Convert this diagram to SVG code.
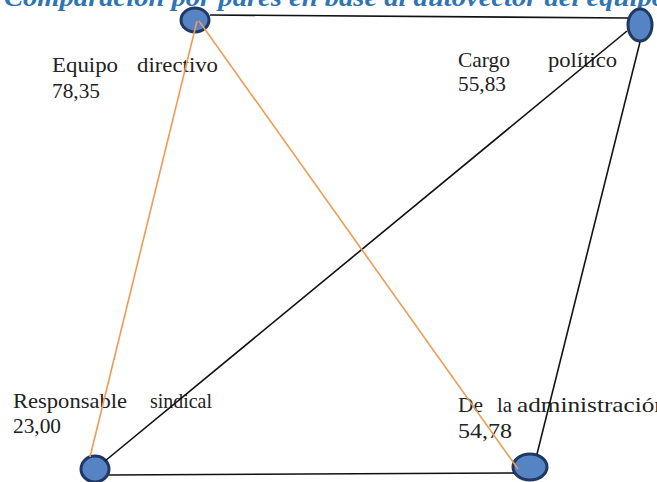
<svg xmlns="http://www.w3.org/2000/svg" width="657" height="482" viewBox="0 0 657 482">
<style>
.node{fill:#5683C4;stroke:#1F3864;stroke-width:3}
.blk{stroke:#111;stroke-width:1.6;fill:none}
.org{stroke:#EE9C55;stroke-width:1.6;fill:none}
.lbl{font-family:"Liberation Serif","DejaVu Serif",serif;font-size:21px;fill:#222}
.title{font-family:"Liberation Serif","DejaVu Serif",serif;font-size:26px;font-style:italic;font-weight:bold;fill:#2E75B6}
</style>
<rect width="657" height="482" fill="#fff"/>
<text class="title" x="4" y="6" textLength="662" lengthAdjust="spacingAndGlyphs">Comparación por pares en base al autovector del equipo</text>
<g id="node-equipo">
<ellipse class="node" cx="195" cy="20" rx="14" ry="12"/>
<text class="lbl" x="52" y="72" textLength="66" lengthAdjust="spacingAndGlyphs">Equipo</text><text class="lbl" x="137" y="72" textLength="81" lengthAdjust="spacingAndGlyphs">directivo</text>
<text class="lbl" x="52" y="98" textLength="48" lengthAdjust="spacingAndGlyphs">78,35</text>
</g>
<g id="node-cargo">
<ellipse class="node" cx="640" cy="25" rx="12" ry="16"/>
<text class="lbl" x="458" y="67" textLength="52" lengthAdjust="spacingAndGlyphs">Cargo</text><text class="lbl" x="548" y="67" textLength="69" lengthAdjust="spacingAndGlyphs">político</text>
<text class="lbl" x="458" y="91" textLength="48" lengthAdjust="spacingAndGlyphs">55,83</text>
</g>
<g id="node-sindical">
<ellipse class="node" cx="95" cy="469" rx="14" ry="13"/>
<text class="lbl" x="13" y="408" textLength="114" lengthAdjust="spacingAndGlyphs">Responsable</text><text class="lbl" x="150" y="408" textLength="62" lengthAdjust="spacingAndGlyphs">sindical</text>
<text class="lbl" x="13" y="433" textLength="48" lengthAdjust="spacingAndGlyphs">23,00</text>
</g>
<g id="node-admin">
<ellipse class="node" cx="530" cy="467" rx="17" ry="13"/>
<text class="lbl" x="458" y="412" textLength="25" lengthAdjust="spacingAndGlyphs">De</text><text class="lbl" x="497" y="412" textLength="15" lengthAdjust="spacingAndGlyphs">la</text><text class="lbl" x="517" y="412" textLength="150" lengthAdjust="spacingAndGlyphs">administración</text>
<text class="lbl" x="458" y="438" textLength="54" lengthAdjust="spacingAndGlyphs">54,78</text>
</g>
<g id="connectors">
<line class="blk" x1="210" y1="15" x2="628" y2="18"/>
<line class="blk" x1="627" y1="31" x2="105" y2="461"/>
<line class="blk" x1="640" y1="42" x2="537" y2="454"/>
<line class="blk" x1="109" y1="475" x2="514" y2="473"/>
<line class="org" x1="197" y1="21" x2="90" y2="457"/>
<line class="org" x1="199" y1="21" x2="518" y2="469"/>
</g>
</svg>
